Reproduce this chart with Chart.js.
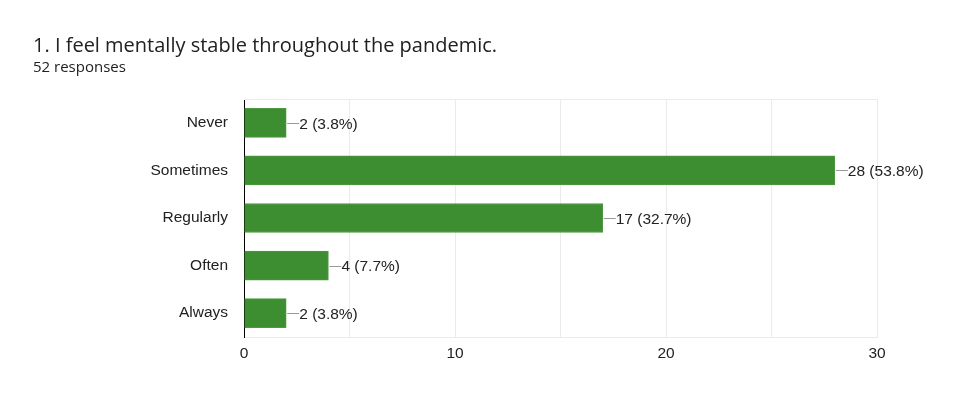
<!DOCTYPE html>
<html>
<head>
<meta charset="utf-8">
<script src="https://cdn.jsdelivr.net/npm/chart.js@4.4.1/dist/chart.umd.min.js"></script>
<style>
  html, body { margin: 0; padding: 0; background: #fff; }
  #wrap { position: relative; width: 977px; height: 408px; overflow: hidden; }
  #title { position: absolute; left: 33px; top: 31px; font-family: "Open Sans", Roboto, sans-serif; font-size: 20px; color: #202124; white-space: nowrap; }
  #sub { position: absolute; left: 33px; top: 56px; font-family: "Open Sans", Roboto, sans-serif; font-size: 15px; color: #202124; white-space: nowrap; }
  canvas { position: absolute; left: 0; top: 0; }
</style>
</head>
<body>
<div id="wrap">
  <canvas id="chart" width="977" height="408"></canvas>
  <div id="title">1. I feel mentally stable throughout the pandemic.</div>
  <div id="sub">52 responses</div>
</div>
<script>
const categories = ['Never', 'Sometimes', 'Regularly', 'Often', 'Always'];
const counts = [2, 28, 17, 4, 2];
const totalResponses = 52;
const xTickLabels = { 0: '0', 10: '10', 20: '20', 30: '30' };

const FONT = '"Liberation Sans", Arial, sans-serif';

const barLabels = {
  id: 'barLabels',
  afterDatasetsDraw(chart) {
    const ctx = chart.ctx;
    const meta = chart.getDatasetMeta(0);
    ctx.save();
    meta.data.forEach((bar, i) => {
      const x = bar.x;
      const y = bar.y;
      ctx.strokeStyle = '#999';
      ctx.lineWidth = 1;
      ctx.beginPath();
      ctx.moveTo(x + 1, Math.round(y) + 0.5);
      ctx.lineTo(x + 13, Math.round(y) + 0.5);
      ctx.stroke();
      const pct = (counts[i] / totalResponses * 100).toFixed(1);
      ctx.fillStyle = '#222';
      ctx.font = '15.5px ' + FONT;
      ctx.textBaseline = 'middle';
      ctx.textAlign = 'left';
      ctx.fillText(counts[i] + ' (' + pct + '%)', x + 13, y + 1.5);
    });
    ctx.restore();
  }
};

const topBorder = {
  id: 'topBorder',
  beforeDatasetsDraw(chart) {
    const a = chart.chartArea;
    const ctx = chart.ctx;
    ctx.save();
    ctx.strokeStyle = '#ebebeb';
    ctx.lineWidth = 1;
    ctx.beginPath();
    ctx.moveTo(a.left, a.top + 0.5);
    ctx.lineTo(a.right, a.top + 0.5);
    ctx.stroke();
    ctx.restore();
  }
};

new Chart(document.getElementById('chart'), {
  type: 'bar',
  data: {
    labels: categories,
    datasets: [{
      data: counts,
      backgroundColor: '#3d8e31',
      borderColor: '#4c9a3f',
      borderWidth: 1,
      borderSkipped: 'start',
      barThickness: 29
    }]
  },
  options: {
    indexAxis: 'y',
    responsive: false,
    animation: false,
    layout: { padding: { left: 0, right: 100, top: 99, bottom: 41 } },
    plugins: {
      legend: { display: false },
      tooltip: { enabled: false }
    },
    scales: {
      x: {
        min: 0,
        max: 30,
        ticks: {
          stepSize: 5,
          autoSkip: false,
          maxRotation: 0,
          color: '#222',
          font: { family: FONT, size: 15.5 },
          padding: 7,
          callback: v => xTickLabels[v] || ''
        },
        grid: { color: '#ebebeb', drawTicks: false },
        border: { color: '#ebebeb' },
        afterFit: s => { s.height = 30; }
      },
      y: {
        ticks: {
          color: '#222',
          font: { family: FONT, size: 15.5 },
          padding: 16
        },
        grid: { display: false, drawTicks: false },
        border: { color: '#000', width: 1 },
        afterFit: s => { s.width = 244; }
      }
    }
  },
  plugins: [topBorder, barLabels]
});
</script>
</body>
</html>
